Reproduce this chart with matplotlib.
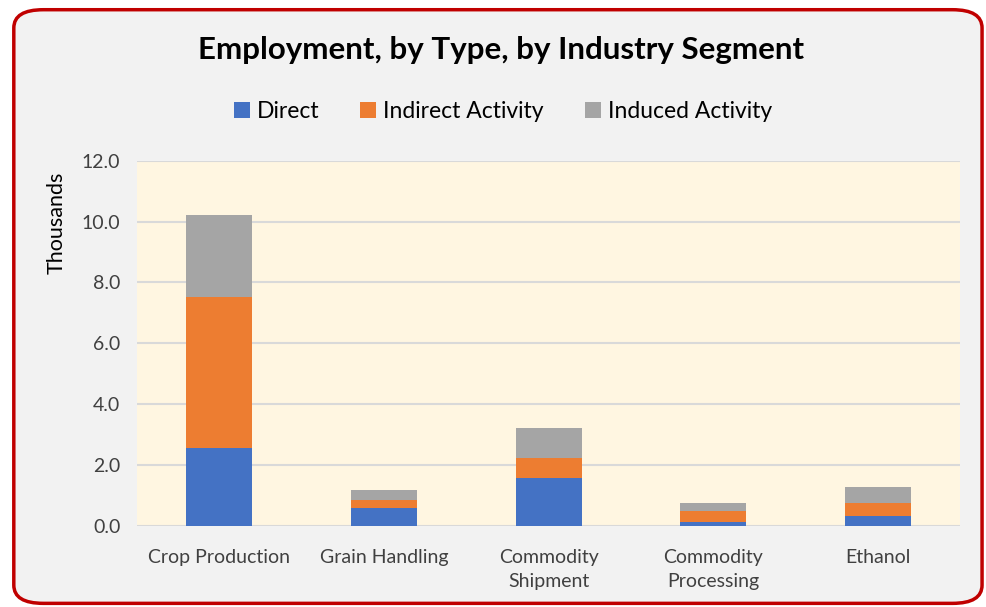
import matplotlib
matplotlib.use('Agg')
import matplotlib.pyplot as plt
from matplotlib.patches import FancyBboxPatch
import numpy as np

categories = ['Crop Production', 'Grain Handling', 'Commodity\nShipment',
              'Commodity\nProcessing', 'Ethanol']
direct = [2.57, 0.57, 1.58, 0.11, 0.31]
indirect = [4.96, 0.26, 0.66, 0.38, 0.45]
induced = [2.70, 0.35, 0.98, 0.27, 0.50]
series_names = ['Direct', 'Indirect Activity', 'Induced Activity']
colors = ['#4472C4', '#ED7D31', '#A5A5A5']
yticks = [0, 2, 4, 6, 8, 10, 12]

plt.rcParams['font.family'] = ['Lato', 'DejaVu Sans']

fig = plt.figure(figsize=(9.86, 6.07), dpi=100)
fig.patch.set_facecolor('white')

# rounded frame of the chart
frame = FancyBboxPatch((0.014, 0.006), 0.982, 0.978,
                       boxstyle='round,pad=0,rounding_size=0.03',
                       transform=fig.transFigure, facecolor='#F2F2F2',
                       edgecolor='#C00000', linewidth=2.5, zorder=-5)
fig.patches.append(frame)

ax = fig.add_axes([0.139, 0.134, 0.835, 0.601])
ax.set_zorder(2)
ax.set_facecolor('#FFF6E1')

x = np.arange(len(categories))
w = 0.4
bottom = np.zeros(len(categories))
for vals, name, col in zip([direct, indirect, induced], series_names, colors):
  ax.bar(x, vals, w, bottom=bottom, color=col, label=name, zorder=3)
  bottom += np.array(vals)

ax.set_xlim(-0.5, len(categories) - 0.5)
ax.set_ylim(0, 12)
ax.set_yticks(yticks)
ax.set_yticklabels(['%.1f' % v for v in yticks], fontsize=14, color='#404040')
ax.set_xticks(x)
ax.set_xticklabels(categories, fontsize=14, color='#404040', linespacing=1.45,
                   va='top')
ax.tick_params(length=0, pad=12)
ax.tick_params(axis='x', pad=17)
ax.yaxis.grid(True, color='#D9D9D9', linewidth=1.5, zorder=1)
ax.set_axisbelow(True)
for s in ax.spines.values():
  s.set_visible(False)
ax.set_ylabel('Thousands', fontsize=15.5, color='black')
ax.yaxis.set_label_coords(-0.085, 0.83)

fig.text(0.508, 0.918, 'Employment, by Type, by Industry Segment',
         ha='center', va='center', fontsize=22.5, fontweight='bold')

handles, labels = ax.get_legend_handles_labels()
fig.legend(handles, labels, loc='center', bbox_to_anchor=(0.51, 0.817),
           ncol=3, frameon=False, fontsize=16.5, handlelength=0.7,
           handleheight=0.7, handletextpad=0.3, columnspacing=1.8)

fig.savefig('out.png', dpi=100, facecolor=fig.get_facecolor())
